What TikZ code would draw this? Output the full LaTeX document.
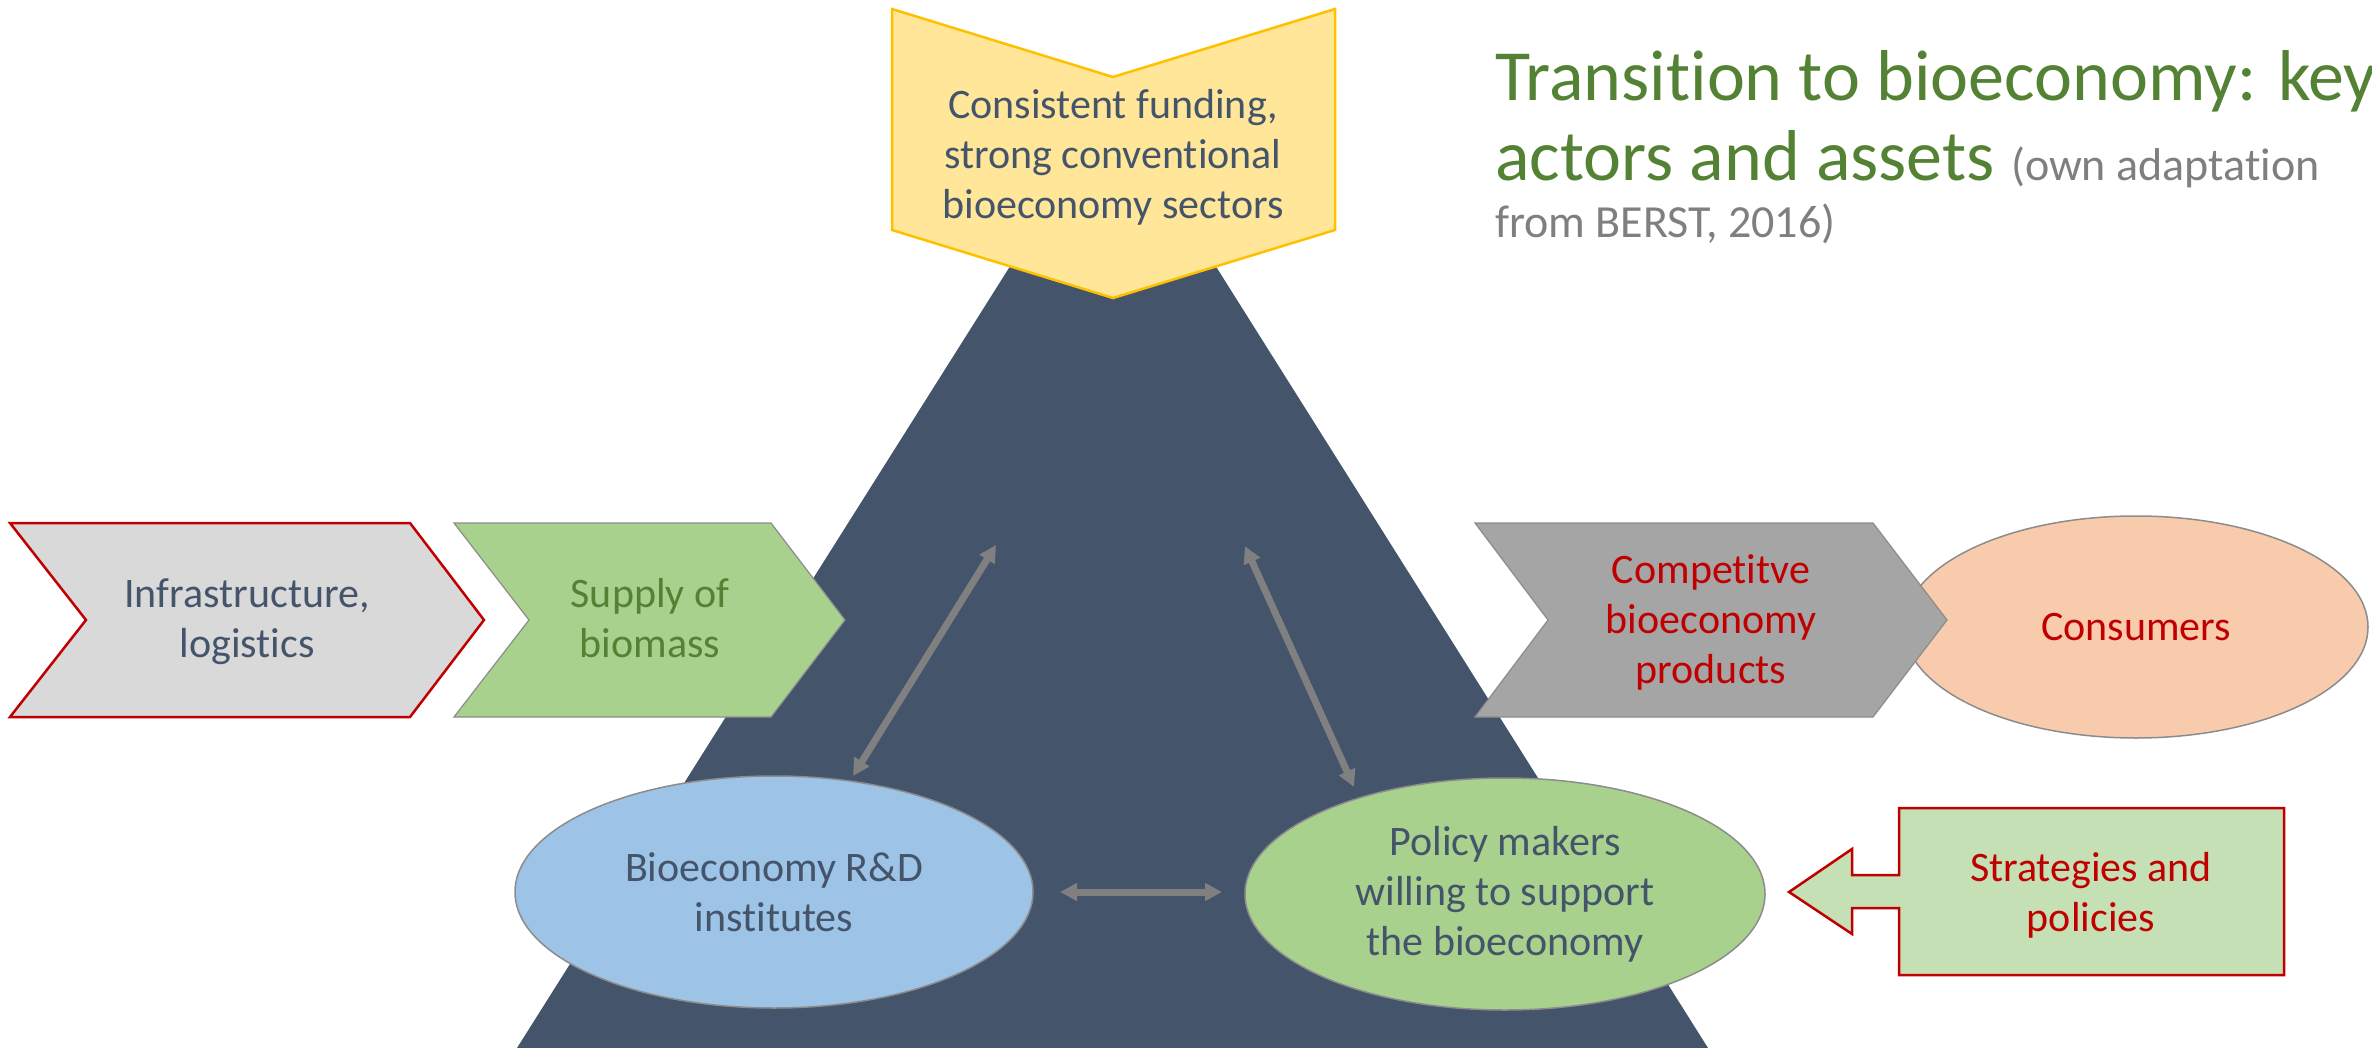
\documentclass[tikz,border=0pt]{standalone}
\usepackage{fontspec}
\setmainfont{Carlito}[Ligatures=NoCommon]
\usetikzlibrary{shapes.geometric,arrows.meta}
\definecolor{slate}{HTML}{44546A}
\definecolor{ylwfill}{HTML}{FFE699}
\definecolor{ylwline}{HTML}{FFC000}
\definecolor{lgrey}{HTML}{D9D9D9}
\definecolor{mgrey}{HTML}{A5A5A5}
\definecolor{edgegrey}{HTML}{8C8C8C}
\definecolor{darkred}{HTML}{C00000}
\definecolor{lgreen}{HTML}{A9D18E}
\definecolor{pgreen}{HTML}{C5E0B4}
\definecolor{dgreen}{HTML}{548235}
\definecolor{lblue}{HTML}{9DC3E6}
\definecolor{peach}{HTML}{F8CBAD}
\definecolor{arrgrey}{HTML}{808080}
\definecolor{subgrey}{HTML}{7F7F7F}
\begin{document}
\begin{tikzpicture}[x=1pt,y=-1pt,
  bodytext/.style={align=center,inner sep=0pt,font=\fontsize{42}{50}\selectfont},
  oval/.style={ellipse,draw=edgegrey,line width=1.5pt,inner sep=0pt,bodytext},
  link/.style={draw=arrgrey,line width=7pt,{Triangle[length=17pt,width=17pt]}-{Triangle[length=17pt,width=17pt]}}]
\useasboundingbox (0,0) rectangle (2372,1048);
% pyramid
\fill[slate] (1113,103) -- (1708,1048) -- (517,1048) -- cycle;
% infrastructure chevron
\draw[fill=lgrey,draw=darkred,line width=2.5pt,line join=miter]
  (10,523) -- (410,523) -- (484,620) -- (410,717) -- (10,717) -- (86,620) -- cycle;
\node[bodytext,text=slate] (infra) at (247,622) {Infrastructure,\\logistics};
% supply chevron
\draw[fill=lgreen,draw=edgegrey,line width=1.2pt]
  (454,523) -- (771,523) -- (845,620) -- (771,717) -- (454,717) -- (529,620) -- cycle;
\node[bodytext,text=dgreen] (supply) at (650,618) {Supply of\\biomass};
% consumers
\node[oval,fill=peach,text=darkred,minimum width=464pt,minimum height=222pt] (cons) at (2136,627) {Consumers};
% competitive chevron
\draw[fill=mgrey,draw=edgegrey,line width=1.2pt]
  (1475,523) -- (1873,523) -- (1947,620) -- (1873,717) -- (1475,717) -- (1548,620) -- cycle;
\node[bodytext,text=darkred] (comp) at (1711,622) {Competitve\\bioeconomy\\products};
% ellipses
\node[oval,fill=lblue,text=slate,minimum width=518pt,minimum height=232pt] (rd) at (774,892) {Bioeconomy R\&D\\institutes};
\node[oval,fill=lgreen,text=slate,minimum width=520pt,minimum height=232pt] (policy) at (1505,894) {Policy makers\\willing to support\\the bioeconomy};
% strategies block arrow
\draw[fill=pgreen,draw=darkred,line width=2.5pt,line join=miter]
  (2284,808) -- (1899,808) -- (1899,875) -- (1852,875) -- (1852,849) -- (1789,892)
  -- (1852,934) -- (1852,908) -- (1899,908) -- (1899,975) -- (2284,975) -- cycle;
\node[bodytext,text=darkred] (strat) at (2091,895) {Strategies and\\policies};
% top chevron
\draw[fill=ylwfill,draw=ylwline,line width=2.5pt,line join=miter]
  (892,9) -- (1113,77) -- (1335,9) -- (1335,230) -- (1113,298) -- (892,230) -- cycle;
\node[bodytext,text=slate] (fund) at (1113,157) {Consistent funding,\\strong conventional\\bioeconomy sectors};
% connectors
\coordinate (la) at (853,776);
\coordinate (lb) at (996,545);
\coordinate (ra) at (1245,546);
\coordinate (rb) at (1354,787);
\coordinate (ma) at (1060,892);
\coordinate (mb) at (1222,892);
\draw[link] (la) -- (lb);
\draw[link] (ra) -- (rb);
\draw[link] (ma) -- (mb);
% title
\node[anchor=north west,inner sep=0pt,align=left,text=dgreen,font=\fontsize{72}{80}\selectfont] (title) at (1495,50)
  {Transition to bioeconomy: key\\actors and assets {\color{subgrey}\fontsize{46}{50}\selectfont (own adaptation}\\[-23pt]
   {\color{subgrey}\fontsize{46}{50}\selectfont from BERST, 2016)}};
\end{tikzpicture}
\end{document}
